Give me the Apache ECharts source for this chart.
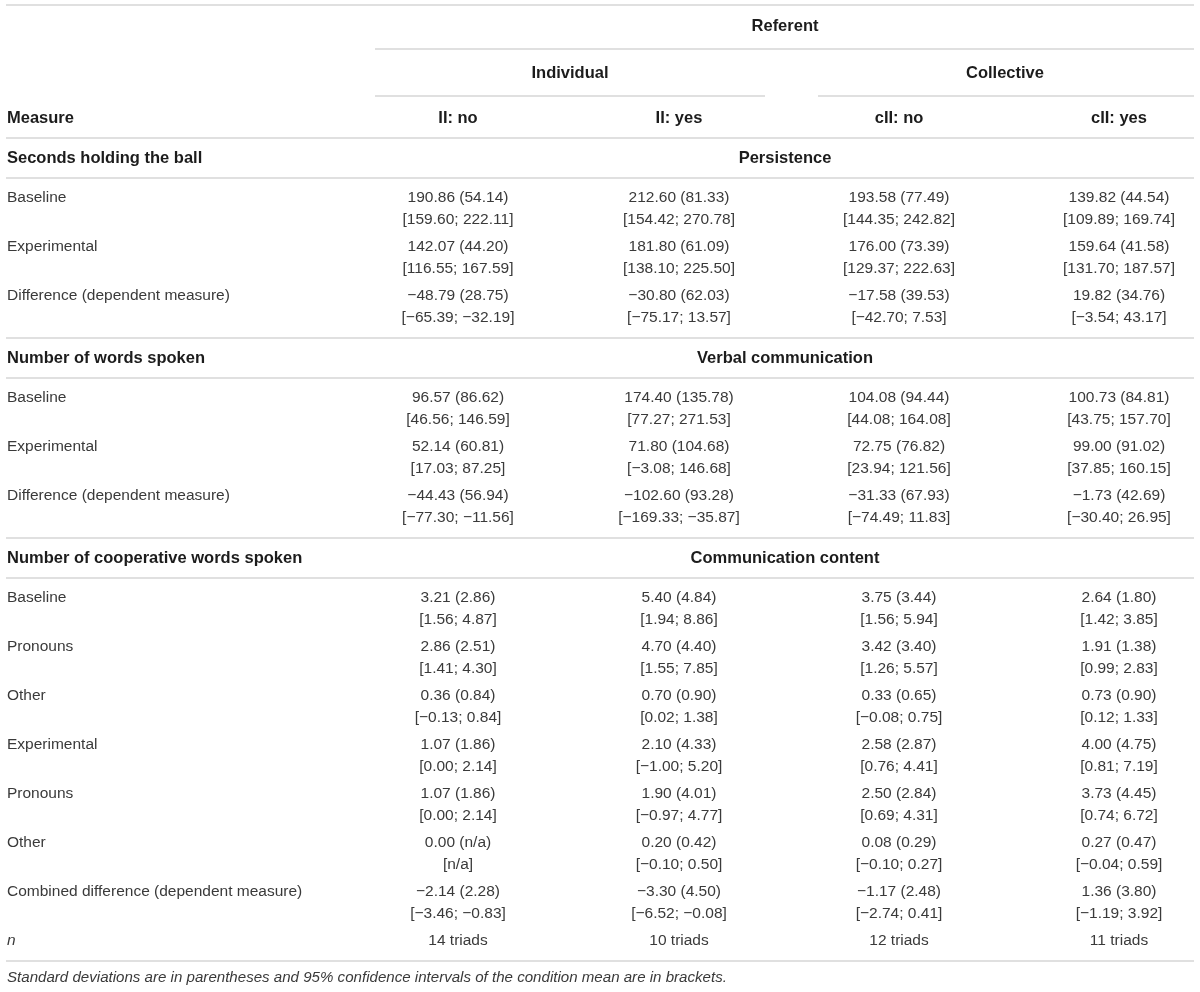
<!DOCTYPE html>
<html>
<head>
<meta charset="utf-8">
<script src="https://cdn.jsdelivr.net/npm/echarts@6/dist/echarts.min.js"></script>
<style>
  html, body { margin: 0; padding: 0; background: #fff; }
  #main { width: 1200px; height: 992px; }
</style>
</head>
<body>
<div id="main"></div>
<script>
// column headers
var referent = 'Referent';
var groups = ['Individual', 'Collective'];
var conditions = ['II: no', 'II: yes', 'cII: no', 'cII: yes'];
var measureHead = 'Measure';

var sectionTitles = ['Seconds holding the ball', 'Number of words spoken', 'Number of cooperative words spoken'];
var sectionConstructs = ['Persistence', 'Verbal communication', 'Communication content'];

// persistence
var persistenceLabels = ['Baseline', 'Experimental', 'Difference (dependent measure)'];
var persistenceMean = [[190.86, 212.60, 193.58, 139.82], [142.07, 181.80, 176.00, 159.64], [-48.79, -30.80, -17.58, 19.82]];
var persistenceSD = [[54.14, 81.33, 77.49, 44.54], [44.20, 61.09, 73.39, 41.58], [28.75, 62.03, 39.53, 34.76]];
var persistenceCI = [
  [[159.60, 222.11], [154.42, 270.78], [144.35, 242.82], [109.89, 169.74]],
  [[116.55, 167.59], [138.10, 225.50], [129.37, 222.63], [131.70, 187.57]],
  [[-65.39, -32.19], [-75.17, 13.57], [-42.70, 7.53], [-3.54, 43.17]]
];

// verbal communication
var wordsLabels = ['Baseline', 'Experimental', 'Difference (dependent measure)'];
var wordsMean = [[96.57, 174.40, 104.08, 100.73], [52.14, 71.80, 72.75, 99.00], [-44.43, -102.60, -31.33, -1.73]];
var wordsSD = [[86.62, 135.78, 94.44, 84.81], [60.81, 104.68, 76.82, 91.02], [56.94, 93.28, 67.93, 42.69]];
var wordsCI = [
  [[46.56, 146.59], [77.27, 271.53], [44.08, 164.08], [43.75, 157.70]],
  [[17.03, 87.25], [-3.08, 146.68], [23.94, 121.56], [37.85, 160.15]],
  [[-77.30, -11.56], [-169.33, -35.87], [-74.49, 11.83], [-30.40, 26.95]]
];

// communication content
var coopLabels = ['Baseline', 'Pronouns', 'Other', 'Experimental', 'Pronouns', 'Other', 'Combined difference (dependent measure)'];
var coopMean = [
  [3.21, 5.40, 3.75, 2.64], [2.86, 4.70, 3.42, 1.91], [0.36, 0.70, 0.33, 0.73],
  [1.07, 2.10, 2.58, 4.00], [1.07, 1.90, 2.50, 3.73], [0.00, 0.20, 0.08, 0.27],
  [-2.14, -3.30, -1.17, 1.36]
];
var coopSD = [
  [2.86, 4.84, 3.44, 1.80], [2.51, 4.40, 3.40, 1.38], [0.84, 0.90, 0.65, 0.90],
  [1.86, 4.33, 2.87, 4.75], [1.86, 4.01, 2.84, 4.45], [null, 0.42, 0.29, 0.47],
  [2.28, 4.50, 2.48, 3.80]
];
var coopCI = [
  [[1.56, 4.87], [1.94, 8.86], [1.56, 5.94], [1.42, 3.85]],
  [[1.41, 4.30], [1.55, 7.85], [1.26, 5.57], [0.99, 2.83]],
  [[-0.13, 0.84], [0.02, 1.38], [-0.08, 0.75], [0.12, 1.33]],
  [[0.00, 2.14], [-1.00, 5.20], [0.76, 4.41], [0.81, 7.19]],
  [[0.00, 2.14], [-0.97, 4.77], [0.69, 4.31], [0.74, 6.72]],
  [null, [-0.10, 0.50], [-0.10, 0.27], [-0.04, 0.59]],
  [[-3.46, -0.83], [-6.52, -0.08], [-2.74, 0.41], [-1.19, 3.92]]
];

var triads = [14, 10, 12, 11];
var footnote = 'Standard deviations are in parentheses and 95% confidence intervals of the condition mean are in brackets.';

// layout (pixels)
var W = 1200, H = 992;
var ruleLeft = 6, ruleRight = 1194;
var labelX = 7;
var colX = [458, 679, 899, 1119];
var groupX = [570, 1005];
var groupRules = [[375, 765], [818, 1194]];
var spanX = 785;
var rowPitch = 49, lineGap = 22, pad = 20;

var FONT = '"Liberation Sans", Arial, Helvetica, sans-serif';
var boldFont = 'bold 16.5px ' + FONT;
var normFont = '15.5px ' + FONT;
var noteFont = 'italic 15.1px ' + FONT;
var textDark = '#1c1c1c';
var textNorm = '#3a3a3a';
var ruleColor = '#d6d6d6';

function fmt(v) {
  return v < 0 ? '\u2212' + Math.abs(v).toFixed(2) : v.toFixed(2);
}

var cells = [];
var rules = [];

function addText(x, y, text, font, color, align) {
  cells.push({ value: [x, y], text: text, font: font, color: color, align: align });
}

function addRule(x1, x2, y) {
  rules.push([x1, y, x2]);
}

function buildTable() {
  addRule(ruleLeft, ruleRight, 5);
  addText(spanX, 26, referent, boldFont, textDark, 'center');
  addRule(groupRules[0][0], ruleRight, 49);
  for (var g = 0; g < groups.length; g++) {
    addText(groupX[g], 73, groups[g], boldFont, textDark, 'center');
    addRule(groupRules[g][0], groupRules[g][1], 96);
  }
  addText(labelX, 118, measureHead, boldFont, textDark, 'left');
  for (var c = 0; c < conditions.length; c++) {
    addText(colX[c], 118, conditions[c], boldFont, textDark, 'center');
  }
  var y = 138;
  addRule(ruleLeft, ruleRight, y);

  var labels = [persistenceLabels, wordsLabels, coopLabels];
  var means = [persistenceMean, wordsMean, coopMean];
  var sds = [persistenceSD, wordsSD, coopSD];
  var cis = [persistenceCI, wordsCI, coopCI];

  for (var s = 0; s < sectionTitles.length; s++) {
    addText(labelX, y + pad, sectionTitles[s], boldFont, textDark, 'left');
    addText(spanX, y + pad, sectionConstructs[s], boldFont, textDark, 'center');
    y += pad * 2;
    addRule(ruleLeft, ruleRight, y);
    var ry = y + pad;
    for (var r = 0; r < labels[s].length; r++) {
      addText(labelX, ry, labels[s][r], normFont, textNorm, 'left');
      for (var k = 0; k < 4; k++) {
        var m = means[s][r][k], sd = sds[s][r][k], ci = cis[s][r][k];
        var l1 = fmt(m) + ' (' + (sd == null ? 'n/a' : sd.toFixed(2)) + ')';
        var l2 = ci == null ? '[n/a]' : '[' + fmt(ci[0]) + '; ' + fmt(ci[1]) + ']';
        addText(colX[k], ry, l1, normFont, textNorm, 'center');
        addText(colX[k], ry + lineGap, l2, normFont, textNorm, 'center');
      }
      ry += rowPitch;
    }
    if (s == sectionTitles.length - 1) {
      addText(labelX, ry, 'n', 'italic ' + normFont, textNorm, 'left');
      for (var t = 0; t < triads.length; t++) {
        addText(colX[t], ry, triads[t] + ' triads', normFont, textNorm, 'center');
      }
      y = ry + pad;
    } else {
      y = ry - rowPitch + lineGap + pad;
    }
    addRule(ruleLeft, ruleRight, y);
  }
  addText(labelX, y + 17, footnote, noteFont, textNorm, 'left');
}

buildTable();

var myChart = echarts.init(document.getElementById('main'), null, { renderer: 'canvas' });

var option = {
  backgroundColor: '#ffffff',
  animation: false,
  grid: { left: 0, right: 0, top: 0, bottom: 0 },
  xAxis: { type: 'value', min: 0, max: W, show: false },
  yAxis: { type: 'value', min: 0, max: H, inverse: true, show: false },
  series: [
    {
      type: 'custom',
      name: 'rules',
      clip: false,
      silent: true,
      data: rules,
      renderItem: function (params, api) {
        var p1 = api.coord([api.value(0), api.value(1)]);
        var p2 = api.coord([api.value(2), api.value(1)]);
        return {
          type: 'line',
          shape: { x1: p1[0], y1: p1[1], x2: p2[0], y2: p2[1] },
          style: { stroke: ruleColor, lineWidth: 1.5 }
        };
      }
    },
    {
      type: 'custom',
      name: 'cells',
      clip: false,
      silent: true,
      data: cells.map(function (c) { return c.value; }),
      renderItem: function (params, api) {
        var c = cells[params.dataIndex];
        var p = api.coord([api.value(0), api.value(1)]);
        return {
          type: 'text',
          x: p[0],
          y: p[1],
          style: {
            text: c.text,
            font: c.font,
            fill: c.color,
            align: c.align,
            verticalAlign: 'middle'
          }
        };
      }
    }
  ]
};

myChart.setOption(option);
</script>
</body>
</html>
